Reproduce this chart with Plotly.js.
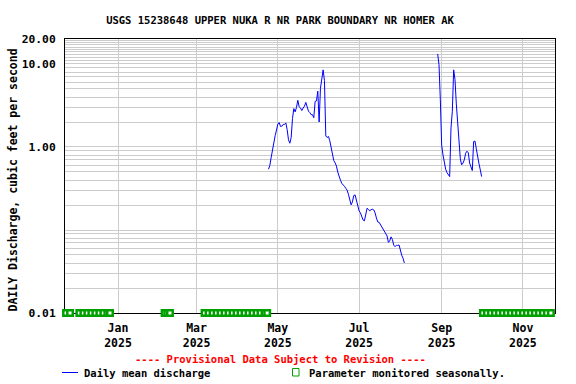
<!DOCTYPE html>
<html>
<head>
<meta charset="utf-8">
<script src="https://cdn.plot.ly/plotly-3.0.1.min.js"></script>
<style>
html,body{margin:0;padding:0;background:#ffffff;}
#chart{width:576px;height:384px;}
</style>
</head>
<body>
<div id="chart"></div>
<script>
// ---- data ----
const chartTitle = 'USGS 15238648 UPPER NUKA R NR PARK BOUNDARY NR HOMER AK';
const yTitle = 'DAILY Discharge, cubic feet per second';

// Daily mean discharge, first run of days (starting 2025-04-24)
const seg1Start = '2025-04-24';
const seg1Values = [
  0.54,0.60,0.75,0.96,1.13,1.37,1.60,1.88,1.97,1.77,
  1.78,1.87,1.87,1.95,1.62,1.22,1.11,1.30,2.20,2.90,
  2.65,3.00,3.65,3.05,2.95,2.75,2.95,3.10,3.45,3.05,
  2.70,2.60,2.45,2.45,2.25,3.55,3.60,4.70,2.00,5.10,
  7.00,8.50,6.30,
  1.36,1.30,1.34,1.19,0.95,0.78,0.686,0.645,0.589,0.498,
  0.437,0.399,0.365,0.352,0.336,0.318,0.302,0.269,0.228,0.201,
  0.218,0.26,0.265,0.224,0.187,0.170,0.161,0.144,0.132,0.129,
  0.152,0.183,0.177,0.170,0.176,0.178,0.175,0.161,0.140,0.125,
  0.124,0.117,0.109,0.103,0.0975,0.0923,0.0849,0.0709,0.0739,0.0826,
  0.077,0.0658,0.0629,0.0655,0.065,0.066,0.056,0.0497,0.0457,0.0401
];

// Daily mean discharge, second run of days (starting 2025-08-29)
const seg2Start = '2025-08-29';
const seg2Values = [
  13.2,9.8,3.7,1.05,0.80,0.64,0.54,0.49,0.46,0.44,
  1.7,2.7,8.5,6.5,3.3,1.85,1.1,0.72,0.61,0.64,
  0.70,0.84,0.89,0.85,0.64,0.56,0.52,1.16,1.18,0.95,
  0.73,0.63,0.53,0.44
];

// "Parameter monitored seasonally" marker days
const seasonalDates = [
  '2024-11-23','2024-11-26',
  '2024-12-03','2024-12-06','2024-12-09','2024-12-12','2024-12-15','2024-12-18','2024-12-21','2024-12-24','2024-12-26',
  '2025-02-05','2025-02-07','2025-02-09',
  '2025-03-07','2025-03-10','2025-03-13','2025-03-16','2025-03-19','2025-03-22','2025-03-25','2025-03-28','2025-03-31',
  '2025-04-03','2025-04-06','2025-04-09','2025-04-12','2025-04-15','2025-04-18','2025-04-21','2025-04-23',
  '2025-10-02','2025-10-05','2025-10-08','2025-10-11','2025-10-14','2025-10-17','2025-10-20','2025-10-23','2025-10-26','2025-10-29',
  '2025-11-01','2025-11-04','2025-11-07','2025-11-10','2025-11-13','2025-11-16','2025-11-19','2025-11-22'
];
const seasonalLevel = 0.01;

// y axis grid / tick values and labels
const yGridVals = [
  0.01,0.02,0.03,0.04,0.05,0.06,0.07,0.08,0.09,
  0.1,0.2,0.3,0.4,0.5,0.6,0.7,0.8,0.9,
  1,2,3,4,5,6,7,8,9,
  10,11,12,13,14,15,16,17,18,19,20
];
const yLabelled = {0.01:'0.01', 1:'1.00', 10:'10.00', 20:'20.00'};

const xRange = ['2024-11-22 05:00', '2025-11-25 02:00'];
const yRangeVals = [0.01, 20];
const xTick0 = '2025-01-01';

const provisionalText = '---- Provisional Data Subject to Revision ----';
const legendLineText = 'Daily mean discharge';
const legendSeasonText = 'Parameter monitored seasonally.';

// ---- helpers ----
function dailyDates(start, n) {
  const t0 = Date.parse(start + 'T00:00:00Z');
  const out = [];
  for (let i = 0; i < n; i++) out.push(new Date(t0 + i * 86400000).toISOString().slice(0, 10));
  return out;
}
const b = s => '<b>' + s + '</b>';

const FAM = 'DejaVu Sans Mono, monospace';
const BLUE = '#0000ff';
const GREEN = '#00a000';
const GRID = '#cccccc';

// plot area in pixels: left 65, right 555, top 39, bottom 313
const L = 65, R = 555, T = 39, B = 313;
const px = x => (x - L) / (R - L);
const py = y => (B - y) / (B - T);

const traces = [
  {
    type: 'scatter', mode: 'lines',
    x: dailyDates(seg1Start, seg1Values.length), y: seg1Values,
    line: {color: BLUE, width: 1}, hoverinfo: 'skip'
  },
  {
    type: 'scatter', mode: 'lines',
    x: dailyDates(seg2Start, seg2Values.length), y: seg2Values,
    line: {color: BLUE, width: 1}, hoverinfo: 'skip'
  },
  {
    type: 'scatter', mode: 'markers',
    x: seasonalDates, y: seasonalDates.map(() => seasonalLevel),
    cliponaxis: false,
    marker: {symbol: 'square', size: 5.5, color: '#ffffff', line: {color: GREEN, width: 2.5}},
    hoverinfo: 'skip'
  }
];

const tickFont = {family: FAM, size: 11.5, color: '#000', weight: 'bold'};

const layout = {
  width: 576, height: 384,
  margin: {l: L, r: 576 - R, t: T, b: 384 - B, pad: 0},
  paper_bgcolor: '#ffffff', plot_bgcolor: '#ffffff',
  showlegend: false, hovermode: false,
  title: {
    text: b(chartTitle),
    font: {family: FAM, size: 10.5, color: '#000', weight: 'bold'},
    x: 280 / 576, xref: 'container', xanchor: 'center',
    y: 1 - 20 / 384, yref: 'container', yanchor: 'middle'
  },
  xaxis: {
    type: 'date', range: xRange,
    tick0: xTick0, dtick: 'M2', tickformat: '%b<br>%Y',
    showgrid: true, gridcolor: GRID, gridwidth: 1,
    showline: true, linecolor: '#000', linewidth: 1, mirror: true,
    ticks: '', zeroline: false, layer: 'below traces',
    tickfont: tickFont, ticklabelstandoff: 4
  },
  yaxis: {
    type: 'log', range: [Math.log10(yRangeVals[0]), Math.log10(yRangeVals[1])],
    tickmode: 'array', tickvals: yGridVals,
    ticktext: yGridVals.map(v => yLabelled[v] ? b(yLabelled[v]) : ''),
    showgrid: true, gridcolor: GRID, gridwidth: 1,
    showline: true, linecolor: '#000', linewidth: 1, mirror: true,
    ticks: '', zeroline: false, layer: 'below traces',
    tickfont: {family: FAM, size: 11.3, color: '#000', weight: 'bold'},
    ticklabelstandoff: 6
  },
  annotations: [
    {
      text: b(yTitle), xref: 'paper', yref: 'paper',
      x: px(12), y: py(180.5), xanchor: 'center', yanchor: 'middle',
      textangle: -90, showarrow: false,
      font: {family: FAM, size: 11.5, color: '#000', weight: 'bold'}
    },
    {
      text: b(provisionalText), xref: 'paper', yref: 'paper',
      x: px(280), y: py(359), xanchor: 'center', yanchor: 'middle', showarrow: false,
      font: {family: FAM, size: 10.5, color: '#ff0000', weight: 'bold'}
    },
    {
      text: b(legendLineText), xref: 'paper', yref: 'paper',
      x: px(81.5), y: py(372.5), xanchor: 'left', yanchor: 'middle', showarrow: false,
      font: {family: FAM, size: 10.5, color: '#000', weight: 'bold'}
    },
    {
      text: b(legendSeasonText), xref: 'paper', yref: 'paper',
      x: px(307), y: py(372.5), xanchor: 'left', yanchor: 'middle', showarrow: false,
      font: {family: FAM, size: 10.5, color: '#000', weight: 'bold'}
    }
  ],
  shapes: [
    {type: 'line', xref: 'paper', yref: 'paper', x0: px(62), x1: px(78), y0: py(372.5), y1: py(372.5),
     line: {color: BLUE, width: 1}},
    {type: 'rect', xref: 'paper', yref: 'paper', x0: px(292.5), x1: px(299), y0: py(376), y1: py(368.5),
     line: {color: GREEN, width: 1}, fillcolor: 'rgba(0,0,0,0)'}
  ]
};

Plotly.newPlot('chart', traces, layout, {staticPlot: true, displayModeBar: false});
</script>
</body>
</html>
